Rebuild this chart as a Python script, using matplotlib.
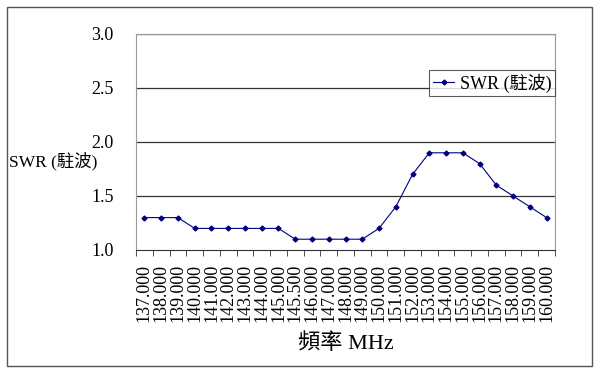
import numpy as np
import matplotlib
matplotlib.use("Agg")
import matplotlib.pyplot as plt
from matplotlib.patches import Rectangle

plt.rcParams['font.family'] = ['Liberation Serif', 'Noto Sans CJK TC']

freqs = ['137.000', '138.000', '139.000', '140.000', '141.000', '142.000',
         '143.000', '144.000', '145.000', '145.500', '146.000', '147.000',
         '148.000', '149.000', '150.000', '151.000', '152.000', '153.000',
         '154.000', '155.000', '156.000', '157.000', '158.000', '159.000',
         '160.000']
swr = [1.3, 1.3, 1.3, 1.2, 1.2, 1.2, 1.2, 1.2, 1.2, 1.1, 1.1, 1.1, 1.1,
       1.1, 1.2, 1.4, 1.7, 1.9, 1.9, 1.9, 1.8, 1.6, 1.5, 1.4, 1.3]
yticks = [1.0, 1.5, 2.0, 2.5, 3.0]

fig = plt.figure(figsize=(6.0, 3.74), dpi=100)
ax = fig.add_axes([136 / 600, 1 - 250 / 374, 419 / 600, 216 / 374])

# outer chart border
fig.patches.append(Rectangle((7 / 600, 1 - 366 / 374), 585 / 600, 359 / 374,
                             transform=fig.transFigure, fill=False,
                             edgecolor='#555555', linewidth=1.0))

x = np.arange(len(freqs))
ax.plot(x, swr, color='#000080', linewidth=0.8, marker='D', markersize=2.5,
        markerfacecolor='#000080', label='SWR (駐波)', zorder=3)

ax.set_xlim(-0.5, len(freqs) - 0.5)
ax.set_ylim(1.0, 3.0)
ax.set_yticks(yticks)
ax.set_yticklabels(['%.1f' % v for v in yticks], fontsize=13)
ax.tick_params(axis='y', length=0, pad=16)

ax.set_xticks(x)
ax.set_xticklabels(freqs, rotation=90, fontsize=13)
ax.set_xticks(np.arange(len(freqs) + 1) - 0.5, minor=True)
ax.tick_params(axis='x', which='major', length=0, pad=10)
ax.tick_params(axis='x', which='minor', length=4, direction='out', color='#333333')

for v in yticks[1:]:
    ax.axhline(v, color='#333333', linewidth=0.9, zorder=1)

for s in ['left', 'top', 'right']:
    ax.spines[s].set_color('#999999')
    ax.spines[s].set_linewidth(0.8)
ax.spines['bottom'].set_color('#333333')

ax.set_xlabel('頻率 MHz', fontsize=16, labelpad=8)
ax.set_ylabel('SWR (駐波)', fontsize=12.5, rotation=0, ha='left', va='center')
ax.yaxis.set_label_coords(-0.302, 0.41)

leg = ax.legend(loc='center', bbox_to_anchor=(0.85, 0.773), fontsize=13,
                frameon=True, fancybox=False, handlelength=1.2,
                handletextpad=0.3, borderpad=0.2, borderaxespad=0)
leg.get_frame().set_edgecolor('#333333')
leg.get_frame().set_linewidth(0.8)

fig.savefig('out.png', dpi=100)
